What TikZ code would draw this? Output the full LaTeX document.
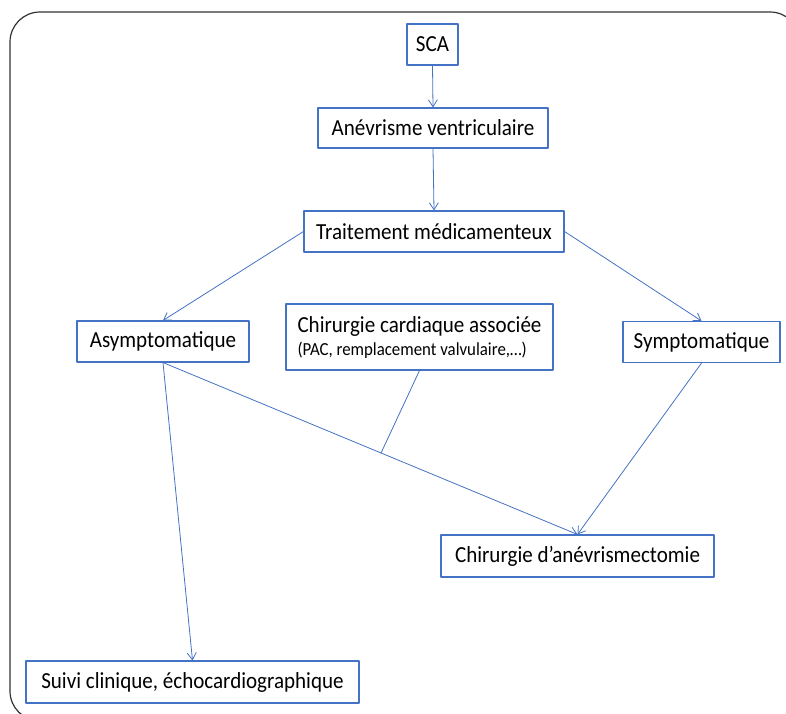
\documentclass[tikz,border=0pt]{standalone}
\usepackage{fontspec}
\setmainfont{Carlito}[FakeStretch=0.915]
\usetikzlibrary{arrows.meta,calc}
\definecolor{boxblue}{HTML}{4472C4}
\begin{document}
\begin{tikzpicture}[x=1pt,y=-1pt,line join=round,line cap=round,>={Straight Barb[length=7pt,width=9pt]}]
            \tikzset{box style/.style={draw=boxblue,line width=1.1pt,fill=white,inner sep=0pt,font=\fontsize{23}{27}\selectfont}}
            \tikzset{link style/.style={draw=boxblue,line width=0.8pt}}
            \def \wmax{786}
            \def \hmax{713}
            \useasboundingbox (0,0) rectangle (\wmax,\hmax);
            \clip (0,0) rectangle (\wmax,\hmax);
            \draw[black!80,line width=1.2pt,rounded corners=30pt] (10,12) rectangle (800,721);
            \node[box style,minimum width=51pt,minimum height=41pt] (sca) at (432.5,44.5) {SCA};
            \node[box style,minimum width=230pt,minimum height=40pt] (ane) at (433,128) {Anévrisme ventriculaire};
            \node[box style,minimum width=260pt,minimum height=41pt] (trait) at (434,231.5) {Traitement médicamenteux};
            \node[box style,minimum width=172pt,minimum height=41pt] (asym) at (163,341.5) {Asymptomatique};
            \node[box style,minimum width=267pt,minimum height=66pt,align=left] (chir) at (419.5,337)
                {Chirurgie cardiaque associée\\[-4pt]{\fontsize{18.4}{21}\selectfont (PAC, remplacement valvulaire,…)}};
            \node[box style,minimum width=157pt,minimum height=41pt] (sympt) at (701.5,342) {Symptomatique};
            \node[box style,minimum width=273pt,minimum height=42pt] (aneu) at (577.5,556) {Chirurgie d’anévrismectomie};
            \node[box style,minimum width=333pt,minimum height=42pt] (suivi) at (192.5,682) {Suivi clinique, échocardiographique};
            \draw[link style,->] (sca.south)--(ane.north);
            \draw[link style,->] (ane.south)--(trait.north);
            \draw[link style,->] (trait.west)--(asym.north);
            \draw[link style,->] (trait.east)--(sympt.north);
            \draw[link style,->] (asym.south)--(aneu.north);
            \draw[link style,->] (asym.south)--(suivi.north);
            \draw[link style,->] (sympt.south)--(aneu.north);
            \coordinate (junc) at ($(asym.south)!0.526!(aneu.north)$);
            \draw[link style] (chir.south)--(junc);
        \end{tikzpicture}
\end{document}
